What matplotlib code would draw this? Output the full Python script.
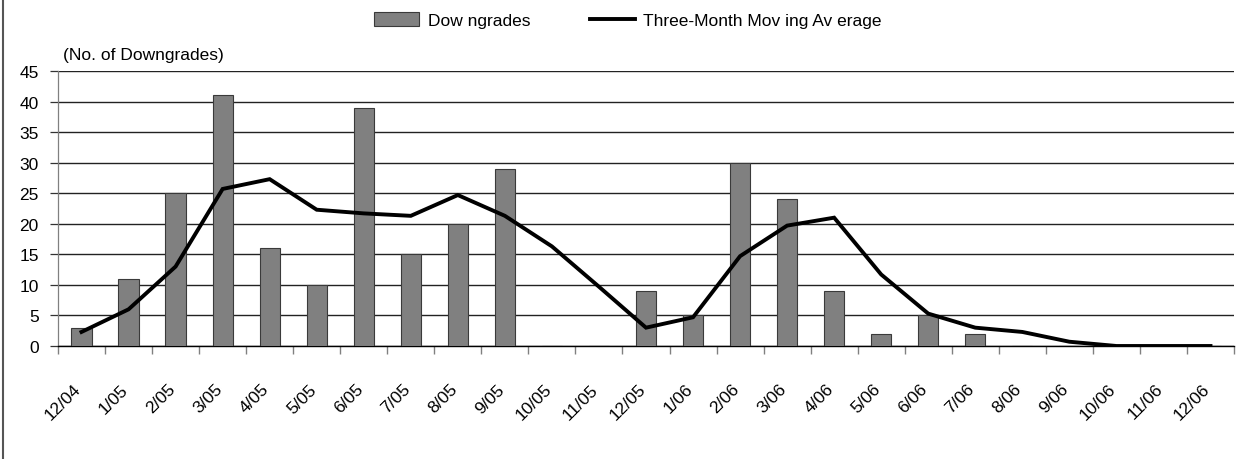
import numpy as np
import matplotlib
matplotlib.use("Agg")
import matplotlib.pyplot as plt
import matplotlib.transforms as mtransforms
from matplotlib.lines import Line2D
from matplotlib.patches import Patch

plt.rcParams['font.family'] = ['Liberation Sans', 'DejaVu Sans']

months = ["12/04", "1/05", "2/05", "3/05", "4/05", "5/05", "6/05", "7/05", "8/05",
          "9/05", "10/05", "11/05", "12/05", "1/06", "2/06", "3/06", "4/06", "5/06",
          "6/06", "7/06", "8/06", "9/06", "10/06", "11/06", "12/06"]
downgrades = [3, 11, 25, 41, 16, 10, 39, 15, 20, 29, 0, 0, 9, 5, 30, 24, 9, 2,
              5, 2, 0, 0, 0, 0, 0]
moving_avg = [2.3, 6.0, 13.0, 25.7, 27.3, 22.3, 21.7, 21.3, 24.7, 21.3, 16.3, 9.7,
              3.0, 4.7, 14.7, 19.7, 21.0, 11.7, 5.3, 3.0, 2.3, 0.7, 0.0, 0.0, 0.0]
y_ticks = [0, 5, 10, 15, 20, 25, 30, 35, 40, 45]

fs = 12.5
x = np.arange(len(months))

fig = plt.figure(figsize=(12.48, 4.6), dpi=100)
ax = fig.add_axes([58 / 1248, 1 - 347 / 460, (1234 - 58) / 1248, (347 - 72) / 460])

ax.bar(x, downgrades, width=0.43, color="#808080", edgecolor="#3a3a3a", linewidth=0.8, zorder=3)
ax.plot(x, moving_avg, color="black", linewidth=2.8, zorder=4, solid_joinstyle="miter")

ax.set_xlim(-0.5, len(months) - 0.5)
ax.set_ylim(0, 45)
ax.set_yticks(y_ticks)
ax.yaxis.grid(True, color="#222222", linewidth=1.0, zorder=0)
ax.set_axisbelow(True)

# tick marks on category boundaries, labels at centres
ax.set_xticks(np.arange(len(months) + 1) - 0.5)
ax.set_xticklabels([])
ax.set_xticks(x, months, minor=True)
ax.tick_params(axis="x", which="major", length=5.8, width=1.0, color="#808080", direction="out")
ax.tick_params(axis="x", which="minor", length=0, pad=29, labelsize=fs)
ax.tick_params(axis="y", length=5.8, width=0.9, color="#333333", labelsize=fs, pad=8)

offset = mtransforms.ScaledTranslation(-3 / 100, 0, fig.dpi_scale_trans)
for lab in ax.get_xticklabels(minor=True):
    lab.set_rotation(45)
    lab.set_ha("right")
    lab.set_va("center")
    lab.set_rotation_mode("anchor")
    lab.set_transform(lab.get_transform() + offset)

for s in ["top", "right"]:
    ax.spines[s].set_visible(False)
ax.spines["left"].set_color("#808080")
ax.spines["left"].set_linewidth(0.9)
ax.spines["bottom"].set_color("black")
ax.spines["bottom"].set_linewidth(1.0)

fig.text(63 / 1248, 1 - 60 / 460, "(No. of Downgrades)", fontsize=fs, ha="left", va="baseline")

handles = [Patch(facecolor="#808080", edgecolor="#3a3a3a", linewidth=0.8),
           Line2D([], [], color="black", linewidth=2.8)]
fig.legend(handles, ["Dow ngrades", "Three-Month Mov ing Av erage"], loc="center",
           bbox_to_anchor=(628 / 1248, 1 - 21 / 460), ncol=2, frameon=False, fontsize=fs,
           handlelength=2.6, handleheight=0.9, handletextpad=0.5, columnspacing=3.4)

# left frame edge
fig.add_artist(Line2D([3 / 1248, 3 / 1248], [0, 1], color="#555555", linewidth=1.5,
                      transform=fig.transFigure))

fig.savefig("out.png", dpi=100)
